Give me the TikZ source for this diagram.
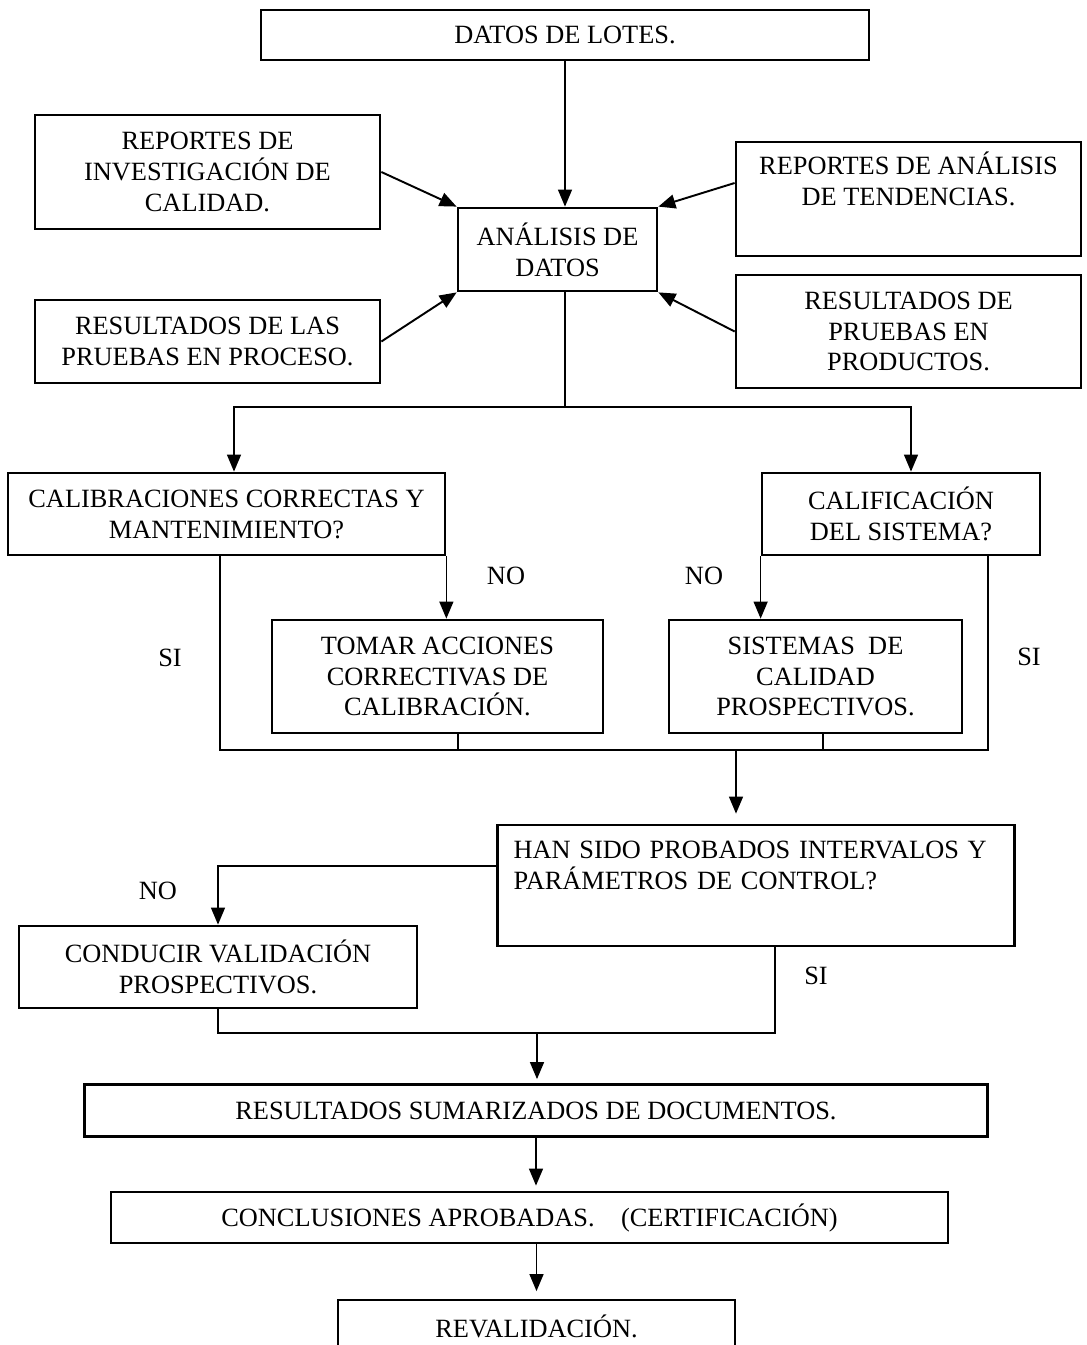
\documentclass[tikz,border=0pt]{standalone}
\usepackage{fontspec}
\setmainfont{Liberation Serif}
\usetikzlibrary{arrows.meta,positioning,calc}

\tikzset{
  box/.style={draw, line width=1.6pt, align=center, inner sep=0pt, font=\fontsize{15}{17.6}\selectfont},
  arr/.style={-{Triangle[length=0.34cm,width=0.28cm]}, line width=0.8pt},
  lnk/.style={line width=0.8pt},
  lbl/.style={font=\fontsize{15}{17.6}\selectfont}
}

\begin{document}
\begin{tikzpicture}[x=0.02cm,y=-0.02cm]
\useasboundingbox (0,0) rectangle (1086,1345);

% entradas
\node[box, minimum width=12.16cm, minimum height=1cm] (lotes) at (565,35) {DATOS DE LOTES.};
\node[box, minimum width=6.9cm, minimum height=2.28cm] (repinv) at (207.5,172) {REPORTES DE\\INVESTIGACIÓN DE\\CALIDAD.};
\node[box, minimum width=3.98cm, minimum height=1.66cm] (analisis) at (557.5,249.5) {ANÁLISIS DE\\DATOS};
\node[box, minimum width=6.9cm, minimum height=2.28cm] (reptend) at (908.5,199) {REPORTES DE ANÁLISIS\\DE TENDENCIAS.\\\strut};
\node[box, minimum width=6.9cm, minimum height=1.66cm] (respro) at (207.5,341.5) {RESULTADOS DE LAS\\PRUEBAS EN PROCESO.};
\node[box, minimum width=6.9cm, minimum height=2.26cm] (resprod) at (908.5,331.5) {RESULTADOS DE\\PRUEBAS EN\\PRODUCTOS.};

% decisiones
\node[box, minimum width=8.74cm, minimum height=1.64cm] (calib) at (226.5,514) {CALIBRACIONES CORRECTAS Y\\MANTENIMIENTO?};
\node[box, minimum width=5.56cm, minimum height=1.64cm] (calif) at (901,514) {CALIFICACIÓN\\DEL SISTEMA?};
\node[box, minimum width=6.62cm, minimum height=2.26cm] (tomar) at (437.5,676.5) {TOMAR ACCIONES\\CORRECTIVAS DE\\CALIBRACIÓN.};
\node[box, minimum width=5.86cm, minimum height=2.26cm] (sistemas) at (815.5,676.5) {SISTEMAS~~DE\\CALIDAD\\PROSPECTIVOS.};
\node[box, text width=9.7cm, inner xsep=0.32cm, align=left, minimum height=2.42cm] (han) at (756,885.5) {HAN SIDO PROBADOS INTERVALOS Y\\PARÁMETROS DE CONTROL?\\\strut};
\node[box, minimum width=7.96cm, minimum height=1.64cm] (conducir) at (218,967) {CONDUCIR VALIDACIÓN\\PROSPECTIVOS.};

% salida
\node[box, minimum width=18.06cm, minimum height=1.04cm] (resumen) at (536,1110.5) {RESULTADOS SUMARIZADOS DE DOCUMENTOS.};
\node[box, minimum width=16.74cm, minimum height=1.02cm] (concl) at (529.5,1217.5) {CONCLUSIONES APROBADAS.\quad(CERTIFICACIÓN)};
\node[box, minimum width=7.94cm, minimum height=1.04cm] (revalid) at (536.5,1326) {REVALIDACIÓN.};

\draw[arr] (lotes.south) -- (lotes.south |- analisis.north);
\draw[arr, line width=1.1pt] (repinv.east) -- (analisis.north west);
\draw[arr, line width=1.1pt] ([yshift=0.32cm]reptend.west) -- (analisis.north east);
\draw[arr, line width=1.1pt] (respro.east) -- (analisis.south west);
\draw[arr, line width=1.1pt] (resprod.west) -- (analisis.south east);

\coordinate (fork) at (565,407);
\draw[lnk] (analisis.south -| fork) -- (fork);
\draw[arr] (fork) -| ([xshift=0.15cm]calib.north);
\draw[arr] (fork) -| ([xshift=0.2cm]calif.north);

\draw[arr] (calib.south east) -- (calib.south east |- tomar.north);
\draw[arr] (calif.south west) -- (calif.south west |- sistemas.north);
\node[lbl] (no1) at (506,576) {NO};
\node[lbl] (no2) at (704,576) {NO};

\coordinate (join1) at (736,750);
\draw[lnk] ([xshift=-0.13cm]calib.south) |- (join1);
\draw[lnk] ([xshift=1.74cm]calif.south) |- (join1);
\draw[lnk] ([xshift=0.41cm]tomar.south) -- ([xshift=0.41cm]tomar.south |- join1);
\draw[lnk] ([xshift=0.15cm]sistemas.south) -- ([xshift=0.15cm]sistemas.south |- join1);
\node[lbl] (si1) at (170,658) {SI};
\node[lbl] (si2) at (1029,657) {SI};
\draw[arr, shorten >=0.2cm] (join1) -- (join1 |- han.north);

\draw[arr] ([yshift=0.39cm]han.west) -| (conducir.north);
\node[lbl] (no3) at (158,891) {NO};
\coordinate (join2) at (537,1033);
\draw[lnk] ([xshift=0.38cm]han.south) |- (join2);
\draw[lnk] (conducir.south) |- (join2);
\node[lbl] (si3) at (816,976) {SI};

\draw[arr, shorten >=0.08cm] (join2) -- (join2 |- resumen.north);
\draw[arr, shorten >=0.1cm] (resumen.south) -- (resumen.south |- concl.north);
\draw[arr, shorten >=0.15cm] (concl.south -| revalid.north) -- (revalid.north);
\end{tikzpicture}
\end{document}
